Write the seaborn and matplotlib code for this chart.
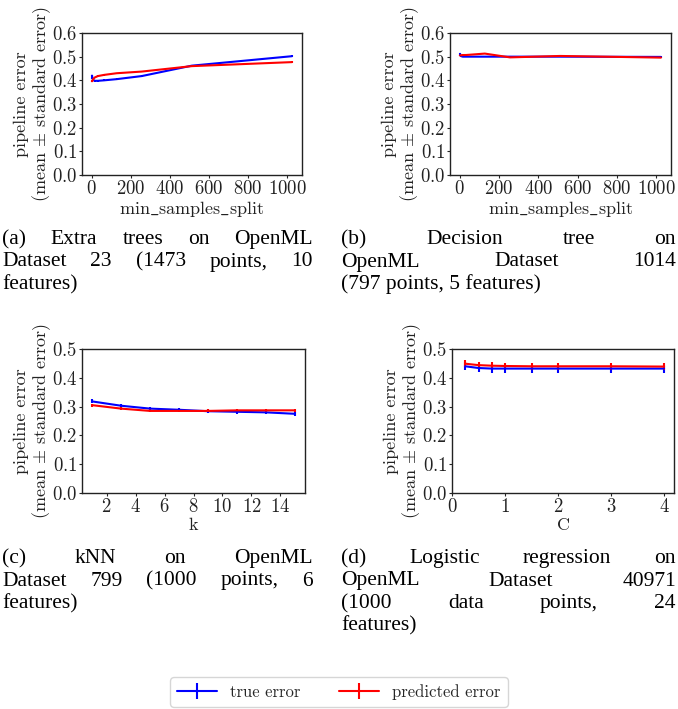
import matplotlib
matplotlib.use("Agg")
import matplotlib.pyplot as plt
import seaborn as sns

# %%
# values
splits = [2, 4, 8, 16, 32, 64, 128, 256, 512, 1024]
et_true = [0.42, 0.41, 0.402, 0.398, 0.398, 0.400, 0.405, 0.418, 0.462, 0.502]
et_true_se = [0.004] * 10
et_pred = [0.396, 0.398, 0.405, 0.412, 0.418, 0.423, 0.430, 0.437, 0.460, 0.477]
et_pred_se = [0.003] * 10

dt_true = [0.512, 0.505, 0.502, 0.500, 0.500, 0.500, 0.500, 0.500, 0.500, 0.499]
dt_true_se = [0.003] * 10
dt_pred = [0.505, 0.506, 0.506, 0.507, 0.507, 0.509, 0.513, 0.497, 0.503, 0.496]
dt_pred_se = [0.003] * 10

ks = [1, 3, 5, 7, 9, 11, 13, 15]
knn_true = [0.318, 0.303, 0.293, 0.289, 0.284, 0.282, 0.280, 0.275]
knn_true_se = [0.007] * 8
knn_pred = [0.305, 0.293, 0.285, 0.285, 0.285, 0.287, 0.287, 0.287]
knn_pred_se = [0.005] * 8

cs = [0.25, 0.5, 0.75, 1, 1.5, 2, 3, 4]
lr_true = [0.440, 0.434, 0.432, 0.432, 0.432, 0.432, 0.432, 0.432]
lr_true_se = [0.014] * 8
lr_pred = [0.449, 0.444, 0.442, 0.441, 0.440, 0.440, 0.440, 0.439]
lr_pred_se = [0.012] * 8

captions = [
    ["(a) Extra trees on OpenML", "Dataset 23 (1473 points, 10", "features)"],
    ["(b) Decision tree on", "OpenML Dataset 1014", "(797 points, 5 features)"],
    ["(c) kNN on OpenML", "Dataset 799 (1000 points, 6", "features)"],
    ["(d) Logistic regression on", "OpenML Dataset 40971",
     "(1000 data points, 24", "features)"],
]

# %%
sns.set_style("ticks")
plt.rcParams["font.family"] = ["cmr10"]
plt.rcParams["mathtext.fontset"] = "cm"
plt.rcParams["axes.formatter.use_mathtext"] = True
plt.rcParams["axes.unicode_minus"] = False

W, H = 678, 709
fig = plt.figure(figsize=(W / 100, H / 100), dpi=100)

boxes = [(82, 33, 220, 142), (450, 33, 221, 142),
         (82, 349, 223, 144), (452, 349, 222, 144)]
axes = [fig.add_axes([l / W, 1 - (t + h) / H, w / W, h / H]) for l, t, w, h in boxes]

panels = [
    (splits, et_true, et_true_se, et_pred, et_pred_se, "min$\\_$samples$\\_$split", 0.6),
    (splits, dt_true, dt_true_se, dt_pred, dt_pred_se, "min$\\_$samples$\\_$split", 0.6),
    (ks, knn_true, knn_true_se, knn_pred, knn_pred_se, "k", 0.5),
    (cs, lr_true, lr_true_se, lr_pred, lr_pred_se, "C", 0.5),
]

for ax, (x, yt, et, yp, ep, xlabel, ymax) in zip(axes, panels):
    h1 = ax.errorbar(x, yt, yerr=et, color="blue", lw=1.5, elinewidth=1.5, capsize=0)
    h2 = ax.errorbar(x, yp, yerr=ep, color="red", lw=1.5, elinewidth=1.5, capsize=0)
    ax.set_ylim(0, ymax)
    ax.set_yticks([i / 10 for i in range(int(round(ymax * 10)) + 1)])
    ax.set_xlabel(xlabel, fontsize=13, labelpad=1, color="#222222")
    ax.set_ylabel("pipeline error\n(mean $\\pm$ standard error)", fontsize=13,
                  labelpad=-1, linespacing=1.1, color="#222222")
    ax.tick_params(labelsize=13.5, length=2.5, width=0.8, pad=1,
                   labelcolor="#222222")
    for s in ax.spines.values():
        s.set_linewidth(1.0)
        s.set_color("#222222")

axes[0].set_xticks([0, 200, 400, 600, 800, 1000])
axes[1].set_xticks([0, 200, 400, 600, 800, 1000])
axes[2].set_xticks([2, 4, 6, 8, 10, 12, 14])
axes[3].set_xlim(left=0)
axes[3].set_xticks([0, 1, 2, 3, 4])

# %%
# justified captions, LaTeX style
renderer = fig.canvas.get_renderer()
cap_kw = dict(fontsize=15.5, family="Liberation Serif", va="baseline", color="black")


def justify(lines, x0, x1, y0, step=22.5):
    for i, line in enumerate(lines):
        y = 1 - (y0 + i * step) / H
        if i == len(lines) - 1:
            fig.text(x0 / W, y, line, ha="left", **cap_kw)
            continue
        words = line.split()
        texts = [fig.text(0, y, w, ha="left", **cap_kw) for w in words]
        widths = [t.get_window_extent(renderer).width for t in texts]
        gap = (x1 - x0 - sum(widths)) / (len(words) - 1)
        pos = x0
        for t, w in zip(texts, widths):
            t.set_x(pos / W)
            pos += w + gap


justify(captions[0], 2, 313, 244)
justify(captions[1], 341, 676, 244)
justify(captions[2], 2, 313, 563)
justify(captions[3], 341, 676, 563)

leg = fig.legend([h1, h2], ["true error", "predicted error"], loc="center",
                 bbox_to_anchor=(0.5, 1 - 692 / H), ncol=2, fontsize=12,
                 handlelength=2.4, columnspacing=2.3, frameon=True)
leg.get_frame().set_edgecolor("#cccccc")

plt.savefig("out.png", dpi=100)
